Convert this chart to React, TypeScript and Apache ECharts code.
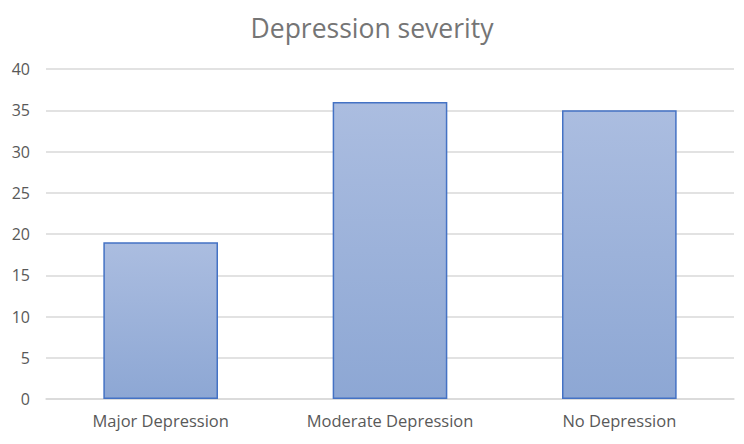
import React, { useEffect, useRef } from "react";
import * as echarts from "echarts";

const categories = ["Major Depression", "Moderate Depression", "No Depression"];
const counts = [19, 36, 35];
const titleText = "Depression severity";

export default function App() {
  const ref = useRef<HTMLDivElement>(null);
  useEffect(() => {
    if (!ref.current) return;
    const chart = echarts.init(ref.current, undefined, { renderer: "svg" });
    chart.setOption({
      animation: false,
      backgroundColor: "#ffffff",
      title: {
        text: titleText,
        left: "center",
        top: 9,
        textStyle: { fontFamily: "Open Sans", fontSize: 26.5, fontWeight: "normal", color: "#757575" },
      },
      grid: { left: 46, right: 10, top: 69, bottom: 45, containLabel: false },
      xAxis: {
        type: "category",
        data: categories,
        axisLine: { show: true, lineStyle: { color: "#d9d9d9", width: 1.5 } },
        axisTick: { show: false },
        axisLabel: { color: "#595959", fontSize: 16.5, fontFamily: "Open Sans", margin: 13 },
      },
      yAxis: {
        type: "value",
        min: 0,
        max: 40,
        interval: 5,
        axisLine: { show: false },
        axisTick: { show: false },
        axisLabel: { color: "#595959", fontSize: 16, fontFamily: "Open Sans", margin: 16 },
        splitLine: { lineStyle: { color: "#d9d9d9", width: 1.5 } },
      },
      series: [
        {
          type: "bar",
          data: counts,
          barWidth: "50%",
          itemStyle: {
            color: new echarts.graphic.LinearGradient(0, 0, 0, 1, [
              { offset: 0, color: "#abbde0" },
              { offset: 1, color: "#8da7d4" },
            ]),
            borderColor: "#4472c4",
            borderWidth: 1.5,
          },
        },
      ],
    });
    return () => chart.dispose();
  }, []);
  return <div ref={ref} style={{ position: "fixed", left: 0, top: 0, width: 744, height: 444 }} />;
}
